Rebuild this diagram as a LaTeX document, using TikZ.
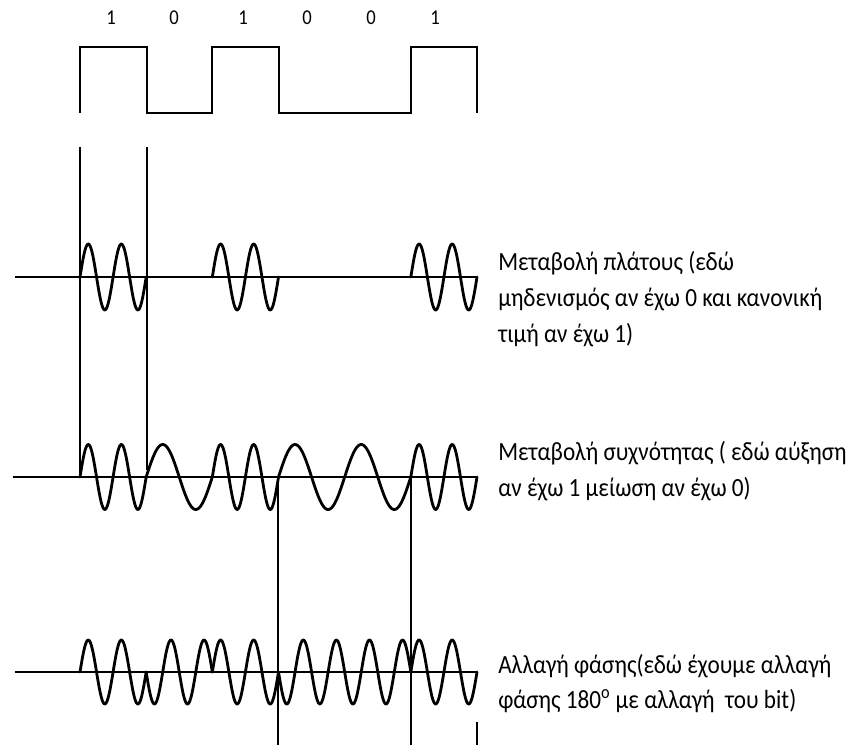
\documentclass[tikz,border=0pt]{standalone}
\usepackage{fontspec}
\setmainfont{Carlito}
\newcommand{\vstretch}[1]{\scalebox{1}[1.13]{#1}}
\begin{document}
\begin{tikzpicture}[x=0.75pt,y=-0.75pt,
  sq/.style={line width=2.2pt, line join=miter},
  thinend/.style={line width=1.1pt},
  axisline/.style={line width=2.2pt},
  wave/.style={line width=2.1pt, line cap=round, line join=round},
  guide/.style={line width=0.9pt},
  bitlbl/.style={font=\fontsize{14}{16}\selectfont, anchor=base, inner sep=0pt},
  desc/.style={font=\fontsize{17.4}{22}\selectfont, anchor=base west, inner sep=0pt}]
\useasboundingbox (0,0) rectangle (862,745);
\def\bw{66.1667}
\pgfmathsetmacro{\kk}{720/\bw}
\pgfmathsetmacro{\kh}{360/\bw}
% bit labels
\node[bitlbl] (b1) at (111,25) {\vstretch{1}};
\node[bitlbl] (b2) at (174,25) {\vstretch{0}};
\node[bitlbl] (b3) at (243,25) {\vstretch{1}};
\node[bitlbl] (b4) at (307,25) {\vstretch{0}};
\node[bitlbl] (b5) at (371,25) {\vstretch{0}};
\node[bitlbl] (b6) at (435,25) {\vstretch{1}};
% square wave
\draw[sq] (80,113) -- (80,47) -- (147,47) -- (147,113) -- (212,113) -- (212,47)
  -- (279,47) -- (279,113) -- (411,113) -- (411,47) -- (477.5,47);
\draw[thinend] (477,47) -- (477,113);
% guides
\coordinate (g1t) at (80,147); \coordinate (g1b) at (80,477);
\coordinate (g2t) at (147,147); \coordinate (g2b) at (147,470);
\coordinate (g3t) at (278,477); \coordinate (g3b) at (278,745);
\coordinate (g4t) at (411,477); \coordinate (g4b) at (411,745);
\coordinate (g5t) at (477,722); \coordinate (g5b) at (477,745);
\draw[guide] (g1t) -- (g1b);
\draw[guide] (g2t) -- (g2b);
\draw[guide] (g3t) -- (g3b);
\draw[guide] (g4t) -- (g4b);
\draw[guide] (g5t) -- (g5b);
% axes
\coordinate (amL) at (15,277); \coordinate (amR) at (477,277);
\coordinate (fmL) at (13,477); \coordinate (fmR) at (477,477);
\coordinate (pmL) at (15,672); \coordinate (pmR) at (477,672);
\draw[axisline] (amL) -- (amR);
\draw[axisline] (fmL) -- (fmR);
\draw[axisline] (pmL) -- (pmR);
% AM
\foreach \i in {0,2,5}
  \draw[wave] plot[domain=0:\bw,samples=90] ({80+\i*\bw+\x},{277-33*sin(\kk*\x)});
% FM
\foreach \i/\c in {0/2,1/1,2/2,3/1,4/1,5/2}
  \draw[wave] plot[domain=0:\bw,samples=90] ({80+\i*\bw+\x},{477-32.5*sin(\c*\kh*\x)});
% PSK
\foreach \i/\s in {0/1,1/-1,2/1,3/-1,4/-1,5/1}
  \draw[wave] plot[domain=0:\bw,samples=90] ({80+\i*\bw+\x},{672-32*(\s)*sin(\kk*\x)});
% descriptions
\node[desc] (t1a) at (498,270) {\vstretch{Μεταβολή πλάτους (εδώ}};
\node[desc] (t1b) at (498,306) {\vstretch{μηδενισμός αν έχω 0 και κανονική}};
\node[desc] (t1c) at (498,342) {\vstretch{τιμή αν έχω 1)}};
\node[desc] (t2a) at (498,460) {\vstretch{Μεταβολή συχνότητας ( εδώ αύξηση}};
\node[desc] (t2b) at (498,496) {\vstretch{αν έχω 1 μείωση αν έχω 0)}};
\node[desc] (t3a) at (498,673) {\vstretch{Αλλαγή φάσης(εδώ έχουμε αλλαγή}};
\node[desc] (t3b) at (498,708) {\vstretch{φάσης 180\textsuperscript{o} με αλλαγή\ \ του bit)}};
\end{tikzpicture}
\end{document}
